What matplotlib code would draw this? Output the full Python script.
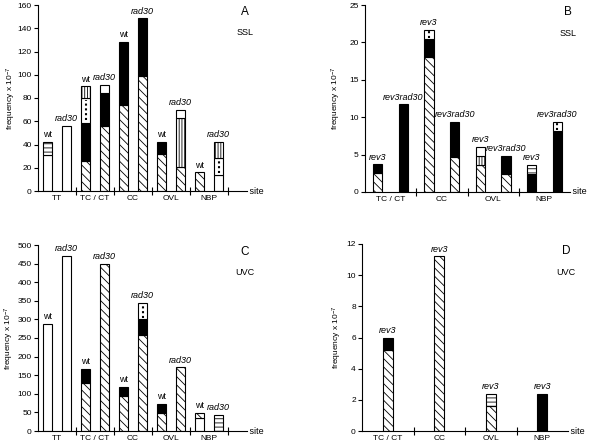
import numpy as np
import matplotlib
matplotlib.use("Agg")
import matplotlib.pyplot as plt

plt.rcParams["font.family"] = ["Liberation Sans", "DejaVu Sans"]
plt.rcParams["mathtext.default"] = "regular"
plt.rcParams["hatch.linewidth"] = 0.6

# ── data (segment heights, stacked bottom -> top in LAYERS order) ──────────
LAYERS = ["open", "diag", "black", "dots", "vert", "horiz", "open_top"]

A_groups = ["TT", "TC / CT", "CC", "OVL", "NBP"]
A_labels = ["wt", "rad30"] * 5
A_open = [31, 56, 0, 0, 0, 0, 0, 0, 0, 14]
A_diag = [0, 0, 26, 56, 74, 99, 31.5, 21, 16, 0]
A_black = [0, 0, 32.5, 28, 54, 49.5, 11, 0, 0, 0]
A_dots = [0, 0, 21.5, 0, 0, 0, 0, 0, 0, 14]
A_vert = [0, 0, 10, 0, 0, 0, 0, 42, 0, 14]
A_horiz = [11, 0, 0, 0, 0, 0, 0, 0, 0, 0]
A_top = [0, 0, 0, 7.5, 0, 0, 0, 7, 0, 0]

B_groups = ["TC / CT", "CC", "OVL", "NBP"]
B_labels = ["rev3", "rev3rad30"] * 4
B_open = [0, 0, 0, 0, 0, 0, 0, 0]
B_diag = [2.5, 0, 18, 4.7, 3.6, 2.4, 0, 0]
B_black = [1.2, 11.7, 2.4, 4.7, 0, 2.4, 2.4, 8.2]
B_dots = [0, 0, 1.3, 0, 0, 0, 0, 1.2]
B_vert = [0, 0, 0, 0, 1.2, 0, 0, 0]
B_horiz = [0, 0, 0, 0, 0, 0, 1.2, 0]
B_top = [0, 0, 0, 0, 1.2, 0, 0, 0]

C_groups = ["TT", "TC / CT", "CC", "OVL", "NBP"]
C_labels = ["wt", "rad30"] * 5
C_open = [287, 470, 0, 0, 0, 0, 0, 0, 36, 0]
C_diag = [0, 0, 130, 450, 95, 257, 48, 171, 12, 0]
C_black = [0, 0, 37, 0, 24, 43, 24, 0, 0, 0]
C_dots = [0, 0, 0, 0, 0, 45, 0, 0, 0, 0]
C_vert = [0] * 10
C_horiz = [0, 0, 0, 0, 0, 0, 0, 0, 0, 43]
C_top = [0] * 10

D_groups = ["TC / CT", "CC", "OVL", "NBP"]
D_labels = ["rev3"] * 4
D_open = [0, 0, 0, 0]
D_diag = [5.2, 11.2, 1.6, 0]
D_black = [0.8, 0, 0, 2.4]
D_dots = [0, 0, 0, 0]
D_vert = [0, 0, 0, 0]
D_horiz = [0, 0, 0.8, 0]
D_top = [0, 0, 0, 0]

STYLE = {
    "open": dict(facecolor="white", hatch=None),
    "diag": dict(facecolor="white", hatch="\\\\\\\\"),
    "black": dict(facecolor="black", hatch=None),
    "dots": dict(facecolor="white", hatch=None),
    "vert": dict(facecolor="white", hatch="||||||"),
    "horiz": dict(facecolor="white", hatch="----"),
    "open_top": dict(facecolor="white", hatch=None),
}

W, H = 590, 445
fig = plt.figure(figsize=(W / 100, H / 100), dpi=100)


def px_axes(left, top, right, bottom):
    return fig.add_axes([left / W, 1 - bottom / H, (right - left) / W, (bottom - top) / H])


def panel(ax, groups, labels, layers, ymax, ystep, letter, light, paired, xlim_extra, ylab_x):
    n = len(labels)
    if paired:
        xs = np.arange(n) + 0.5
        width = 0.48 if xlim_extra else 0.36
    else:
        xs = np.arange(n) * 2 + 1.0
        width = 0.4
    bottom = np.zeros(n)
    for name in LAYERS:
        vals = np.array(layers[name], dtype=float)
        st = STYLE[name]
        mask = vals > 0
        ax.bar(xs[mask], vals[mask], width, bottom=bottom[mask],
               facecolor=st["facecolor"], hatch=st["hatch"],
               edgecolor="black", linewidth=0.8, zorder=2)
        if name == "dots":
            # dotted column down the middle of the segment
            for x, b, v in zip(xs[mask], bottom[mask], vals[mask]):
                ax.vlines(x, b + v * 0.1, b + v * 0.9, colors="black",
                          linewidth=1.5, linestyles=(0, (1, 1.3)), zorder=3)
        bottom += vals
    for x, top, lab in zip(xs, bottom, labels):
        ax.annotate(lab, (x, top), xytext=(0, 2), textcoords="offset points",
                    ha="center", va="bottom", fontsize=6.5,
                    style="normal" if lab == "wt" else "italic")

    ng = len(groups)
    xmax = 2 * ng + (1 if xlim_extra else 0)
    ax.set_xlim(0, xmax)
    ax.set_ylim(0, ymax)
    ax.set_yticks(np.arange(0, ymax + ystep / 2, ystep))
    ax.set_xticks(np.arange(2, 2 * ng + 1 if xlim_extra else 2 * ng, 2))
    ax.set_xticklabels([])
    ax.set_xticks(np.arange(ng) * 2 + 1, minor=True)
    ax.set_xticklabels(groups, minor=True)
    ax.tick_params(axis="x", which="major", direction="inout", length=6, width=0.8)
    ax.tick_params(axis="x", which="minor", length=0, pad=3, labelsize=6)
    ax.tick_params(axis="y", direction="out", length=3, width=0.8, labelsize=6, pad=1.5)
    for s in ("top", "right"):
        ax.spines[s].set_visible(False)
    for s in ("left", "bottom"):
        ax.spines[s].set_linewidth(0.8)
    ax.set_ylabel("frequency x 10$^{-7}$", fontsize=6)
    ax.yaxis.set_label_coords(ylab_x, 0.5)
    ax.text(1.0, 0, " site", transform=ax.transAxes, ha="left", va="center", fontsize=6.5)
    ax.text(0.99, 0.96, letter, transform=ax.transAxes, ha="center", va="center", fontsize=8.5)
    ax.text(0.99, 0.85, light, transform=ax.transAxes, ha="center", va="center", fontsize=6.5)


def layer_dict(o, d, b, dt, v, h, t):
    return dict(zip(LAYERS, [o, d, b, dt, v, h, t]))


axA = px_axes(38, 5, 247, 191)
panel(axA, A_groups, A_labels,
      layer_dict(A_open, A_diag, A_black, A_dots, A_vert, A_horiz, A_top),
      160, 20, "A", "SSL", True, True, -0.096)

axB = px_axes(365, 5, 570, 192)
panel(axB, B_groups, B_labels,
      layer_dict(B_open, B_diag, B_black, B_dots, B_vert, B_horiz, B_top),
      25, 5, "B", "SSL", True, False, -0.105)

axC = px_axes(38, 245, 247, 431)
panel(axC, C_groups, C_labels,
      layer_dict(C_open, C_diag, C_black, C_dots, C_vert, C_horiz, C_top),
      500, 50, "C", "UVC", True, True, -0.105)

axD = px_axes(362, 244, 568, 431)
panel(axD, D_groups, D_labels,
      layer_dict(D_open, D_diag, D_black, D_dots, D_vert, D_horiz, D_top),
      12, 2, "D", "UVC", False, False, -0.085)

fig.savefig("out.png", dpi=100)
